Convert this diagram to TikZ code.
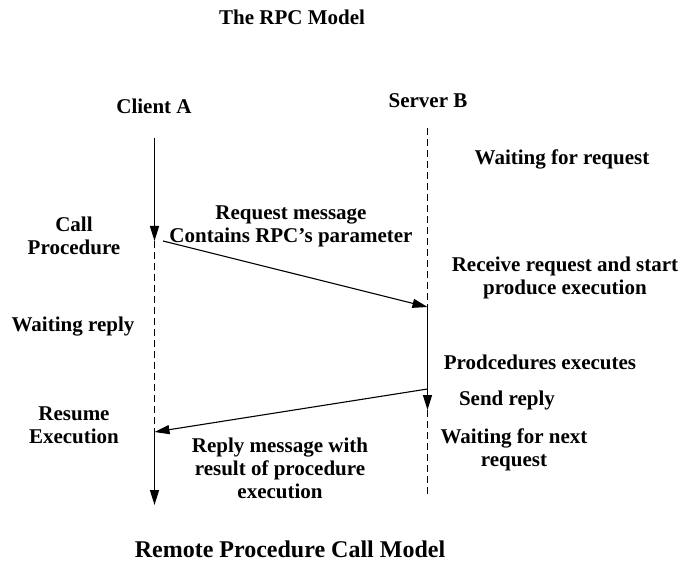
\documentclass[tikz,border=0pt]{standalone}
\usepackage{fontspec}
\setmainfont{Liberation Serif}
\usetikzlibrary{arrows.meta}
\begin{document}
\begin{tikzpicture}[x=1pt,y=-1pt,
  lbl/.style={inner sep=0pt,anchor=base,align=center,font=\fontsize{21}{23}\selectfont\bfseries},
  life/.style={line width=1.3pt},
  wait/.style={line width=1.2pt,dash pattern=on 7pt off 4pt},
  tip/.style={-{Triangle[length=15pt,width=9pt]}}
]
\useasboundingbox (0,0) rectangle (683,561);
% titles
\node[lbl] (title) at (292,25) {The RPC Model};
\node[lbl,font=\fontsize{24}{28}\selectfont\bfseries] (bottom) at (290,557) {Remote Procedure Call Model};
\node[lbl] (client) at (154,114) {Client A};
\node[lbl] (server) at (428,108) {Server B};
% lifeline points
\coordinate (a0) at (154.5,138);
\coordinate (a1) at (154.5,241);
\coordinate (a2) at (154.5,432);
\coordinate (a3) at (154.5,505);
\coordinate (b0) at (427.5,128);
\coordinate (b1) at (427.5,307);
\coordinate (b2) at (427.5,389);
\coordinate (b3) at (427.5,410);
\coordinate (b4) at (427.5,495);
\coordinate (rq) at (163,241);
% client lifeline
\draw[life,tip] (a0) -- (a1);
\draw[wait] (a1) -- (a2);
\draw[life,tip] (a2) -- (a3);
% server lifeline
\draw[wait] (b0) -- (b1);
\draw[life,tip] (b1) -- (b3);
\draw[wait] (b3) -- (b4);
% messages
\draw[line width=1.1pt,tip] (rq) -- (b1);
\draw[line width=1.1pt,tip] (b2) -- (a2);
% labels
\node[lbl] (call) at (74,255) {Call\\Procedure};
\node[lbl] (wreply) at (73,332) {Waiting reply};
\node[lbl] (resume) at (74,443) {Resume\\Execution};
\node[lbl] (reqmsg) at (291,243) {Request message\\Contains RPC’s parameter};
\node[lbl] (repmsg) at (280,498) {Reply message with\\result of procedure\\execution};
\node[lbl] (wreq) at (562,165) {Waiting for request};
\node[lbl] (recv) at (565,295) {Receive request and start\\produce execution};
\node[lbl] (exec) at (540,370) {Prodcedures executes};
\node[lbl] (send) at (507,406) {Send reply};
\node[lbl] (wnext) at (514,466) {Waiting for next\\request};
\end{tikzpicture}
\end{document}
